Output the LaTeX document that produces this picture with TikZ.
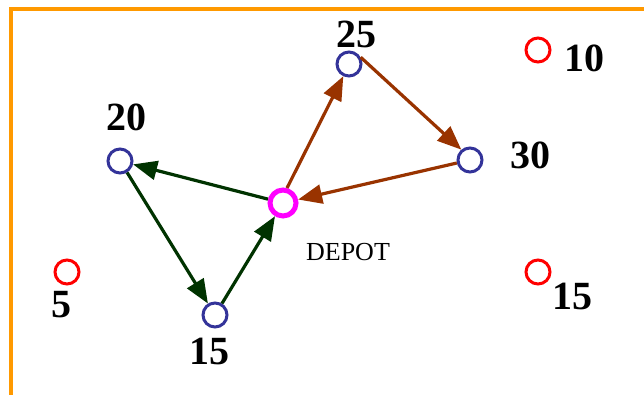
\documentclass[tikz,border=0pt]{standalone}
\usepackage{fontspec}
\setmainfont{Liberation Serif}
\usetikzlibrary{arrows.meta}
\definecolor{frameorange}{RGB}{255,153,0}
\definecolor{routebrown}{RGB}{153,51,0}
\definecolor{routegreen}{RGB}{0,51,0}
\definecolor{custblue}{RGB}{51,51,153}
\definecolor{custred}{RGB}{255,0,0}
\definecolor{depotpink}{RGB}{255,0,255}
\begin{document}
\begin{tikzpicture}[x=1pt,y=-1pt,
  served/.style={circle,draw=custblue,line width=3pt,minimum size=24pt,inner sep=0pt},
  unserved/.style={circle,draw=custred,line width=3pt,minimum size=24pt,inner sep=0pt},
  depotnode/.style={circle,draw=depotpink,line width=5pt,minimum size=26pt,inner sep=0pt},
  demand/.style={inner sep=0pt,font=\fontsize{40}{40}\selectfont\bfseries},
  route/.style={line width=3.2pt,-{Triangle[length=24pt,width=19pt]}},
  brownroute/.style={route,draw=routebrown,fill=routebrown},
  greenroute/.style={route,draw=routegreen,fill=routegreen}]
\useasboundingbox (0,0) rectangle (644,395);
\fill[white] (0,0) rectangle (644,395);

% frame along the top and left edges
\draw[frameorange,line width=4.5pt] (11,395) -- (11,9) -- (644,9);

% customers and depot
\node[depotnode] (depot) at (283,203) {};
\node[served] (c25) at (349,64) {};
\node[served] (c30) at (470,160) {};
\node[served] (c20) at (120,161) {};
\node[served] (c15) at (215,315) {};
\node[unserved] (r10) at (538,50) {};
\node[unserved] (r5) at (67,272) {};
\node[unserved] (r15) at (538,272) {};

% demand labels
\node[demand] (l25) at (356,34) {25};
\node[demand] (l20) at (126,117) {20};
\node[demand] (l30) at (530,155) {30};
\node[demand] (l15) at (209,351) {15};
\node[demand] (l10) at (584,58) {10};
\node[demand] (l5) at (61,305) {5};
\node[demand] (lr15) at (572,296) {15};
\node[inner sep=0pt,font=\fontsize{26}{26}\selectfont] (ldepot) at (348,252) {DEPOT};

% first route
\draw[brownroute] (depot.75) -- (c25.245);
\draw[brownroute] (c25.30) -- (c30.130);
\draw[brownroute] (c30) -- (depot);

% second route
\draw[greenroute] (depot) -- (c20);
\draw[greenroute] (c20) -- (c15);
\draw[greenroute] (c15) -- (depot);
\end{tikzpicture}
\end{document}
